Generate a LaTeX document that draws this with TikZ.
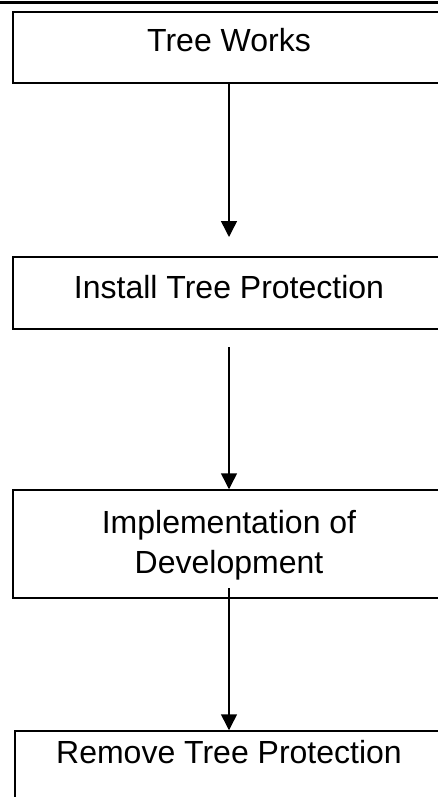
\documentclass[tikz,border=0pt]{standalone}
\usepackage{fontspec}
\setmainfont{Liberation Sans}
\usetikzlibrary{arrows.meta}
\begin{document}
\begin{tikzpicture}[x=1pt,y=-1pt,
  box/.style={draw=black,line width=1.5pt,minimum width=432pt,inner sep=0pt,rectangle},
  lbl/.style={font=\fontsize{32}{40}\selectfont,anchor=base,inner sep=0pt,align=center},
  conn/.style={line width=1.5pt,-{Triangle[width=16pt,length=16pt]}}]
\useasboundingbox (0,0) rectangle (438,797);
\fill[white] (0,0) rectangle (438,797);
\draw[line width=3.5pt] (0,2.7) -- (438,2.7);
\node[box,minimum height=71pt] (b1) at (229,47.5) {};
\node[box,minimum height=72pt] (b2) at (229,293) {};
\node[box,minimum height=108pt] (b3) at (229,544) {};
\node[box,minimum width=428pt,minimum height=70pt] (b4) at (229,766) {};
\node[lbl] (t1) at (229,52) {Tree Works};
\node[lbl] (t2) at (229,298) {Install Tree Protection};
\node[lbl] (t3a) at (229,533) {Implementation of};
\node[lbl] (t3b) at (229,573) {Development};
\node[lbl] (t4) at (229,763) {Remove Tree Protection};
\coordinate (e1) at (229,237);
\coordinate (s2) at (229,347);
\coordinate (s3) at (229,588);
\draw[conn] (b1.south) -- (e1);
\draw[conn] (s2) -- (b3.north);
\draw[conn] (s3) -- (b4.north);
\end{tikzpicture}
\end{document}
